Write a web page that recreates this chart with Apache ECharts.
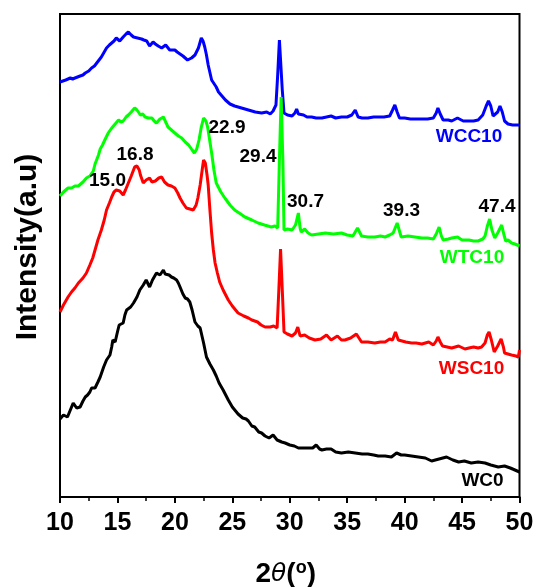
<!DOCTYPE html>
<html>
<head>
<meta charset="utf-8">
<script src="https://cdn.jsdelivr.net/npm/echarts@6/dist/echarts.min.js"></script>
<style>
  html, body { margin: 0; padding: 0; background: #fff; }
  #chart { width: 535px; height: 587px; }
</style>
</head>
<body>
<div id="chart"></div>
<script>
// XRD patterns, 2θ (degrees) vs intensity (a.u.), curves stacked with vertical offsets.

const twoThetaTicks = [10, 15, 20, 25, 30, 35, 40, 45, 50];

const wc0 = [
  [10.0,78],[10.15,80],[10.3,82],[10.45,83],[10.65,80],[10.9,87],[11.15,94],[11.45,89],[11.75,90],
  [12.0,96],[12.2,100],[12.4,102],[12.6,105],[12.75,109],[13.05,109],[13.3,115],[13.5,120],
  [13.8,130],[14.05,137],[14.35,142],[14.5,150],[14.6,157],[14.8,155],[15.0,165],[15.15,172],
  [15.5,174],[15.65,182],[15.8,187],[16.15,190],[16.4,194],[16.7,200],[16.95,207],[17.25,212],
  [17.5,217],[17.8,210],[18.05,217],[18.25,221],[18.4,224],[18.7,222],[19.0,227],[19.15,223],
  [19.3,221],[19.5,222],[19.7,220],[19.9,219],[20.15,217],[20.3,214],[20.45,210],[20.7,203],
  [20.9,199],[21.1,198],[21.3,195],[21.5,187],[21.75,175],[22.0,171],[22.2,169],[22.5,154],
  [22.75,140],[23.05,133],[23.35,127],[23.6,121],[23.85,114],[24.2,107],[24.65,97],[25.0,90],
  [25.5,83],[25.9,79],[26.2,78],[26.4,76],[26.7,71],[26.95,70],[27.3,65],[27.55,64],[27.85,61],
  [28.2,59],[28.55,62],[28.9,57],[29.3,55],[29.6,54],[30.0,52],[30.4,51],[30.75,49],[31.2,49],
  [31.6,49],[32.0,49],[32.3,52],[32.6,48],[32.8,47],[33.2,48],[33.6,48],[34.0,45],[34.5,44],
  [35.1,45],[35.7,44],[36.3,43],[36.8,43],[37.3,42],[37.7,41],[38.3,41],[38.85,40],[39.3,44],
  [39.7,42],[40.0,42],[40.6,41],[41.2,40],[41.8,39],[42.35,36],[43.0,38],[43.65,40],[44.2,37],
  [44.7,35],[45.2,36],[45.8,34],[46.4,35],[47.0,34],[47.5,32],[48.15,30],[48.7,31],[49.2,29],
  [49.6,27],[50.0,25]
];

const wsc10 = [
  [10.0,185],[10.3,192],[10.7,200],[11.0,205],[11.3,209],[11.6,214],[12.0,219],[12.3,224],
  [12.6,232],[12.85,239],[13.05,247],[13.3,257],[13.6,267],[13.85,277],[14.05,287],[14.3,294],
  [14.5,300],[14.7,305],[14.9,307],[15.2,306],[15.5,302],[15.7,307],[15.95,314],[16.2,321],
  [16.5,330],[16.7,331],[16.9,327],[17.0,322],[17.25,314],[17.5,317],[17.8,319],[18.0,315],
  [18.3,316],[18.6,319],[18.85,320],[19.1,315],[19.4,312],[19.7,311],[20.0,309],[20.25,304],
  [20.45,299],[20.7,294],[21.0,289],[21.3,288],[21.6,287],[21.85,292],[22.0,299],[22.2,312],
  [22.4,329],[22.5,337],[22.65,334],[22.8,322],[22.9,312],[23.05,287],[23.2,264],[23.35,247],
  [23.5,234],[23.7,224],[23.9,215],[24.2,207],[24.65,197],[25.0,191],[25.5,184],[26.0,181],
  [26.4,179],[26.7,177],[27.2,175],[27.5,172],[27.85,170],[28.3,170],[28.6,171],[28.9,169],
  [29.05,207],[29.2,248],[29.35,207],[29.5,165],[29.8,163],[30.2,161],[30.5,164],[30.7,170],
  [30.9,161],[31.0,159],[31.3,162],[31.7,159],[32.2,157],[32.7,158],[33.2,162],[33.6,157],
  [34.15,161],[34.5,157],[34.8,157],[35.3,159],[35.8,163],[36.25,155],[36.8,155],[37.4,154],
  [37.9,155],[38.3,155],[38.7,158],[38.95,157],[39.2,165],[39.45,157],[39.6,155],[40.1,155],
  [40.6,154],[41.0,154],[41.5,153],[42.1,155],[42.5,152],[42.75,156],[42.9,160],[43.1,155],
  [43.3,151],[43.7,150],[44.1,149],[44.7,151],[45.25,148],[45.6,149],[46.0,150],[46.4,149],
  [46.7,150],[47.0,154],[47.2,162],[47.35,165],[47.55,157],[47.8,145],[48.1,151],[48.4,158],
  [48.6,150],[48.7,144],[49.0,143],[49.3,142],[49.7,141],[49.9,140],[50.0,147]
];

const wtc10 = [
  [10.0,301],[10.3,305],[10.7,309],[11.0,309],[11.3,311],[11.6,311],[12.0,315],[12.3,319],
  [12.6,321],[12.9,326],[13.05,333],[13.2,335],[13.35,342],[13.5,348],[13.7,352],[13.9,357],
  [14.2,364],[14.5,369],[14.8,373],[15.1,377],[15.3,375],[15.5,376],[15.75,380],[15.95,382],
  [16.2,385],[16.5,389],[16.7,387],[17.0,382],[17.2,383],[17.4,380],[17.7,379],[18.0,379],
  [18.2,376],[18.4,374],[18.7,378],[19.0,380],[19.2,375],[19.4,370],[19.7,367],[20.0,364],
  [20.3,361],[20.6,359],[20.9,355],[21.2,352],[21.5,347],[21.7,344],[21.9,348],[22.1,357],
  [22.3,370],[22.5,379],[22.7,376],[22.85,370],[23.0,359],[23.2,344],[23.4,327],[23.6,314],
  [24.0,305],[24.35,299],[24.8,292],[25.2,287],[25.6,284],[26.1,280],[26.7,277],[27.25,274],
  [27.8,272],[28.4,270],[28.7,271],[28.95,269],[29.1,337],[29.25,400],[29.4,337],[29.5,267],
  [29.8,268],[30.2,267],[30.5,272],[30.75,284],[30.9,269],[31.0,265],[31.3,268],[31.6,264],
  [31.9,262],[32.5,263],[33.1,264],[33.8,263],[34.5,264],[35.0,262],[35.5,261],[35.9,269],
  [36.25,261],[36.8,260],[37.4,260],[37.9,261],[38.3,260],[38.7,262],[39.0,264],[39.35,274],
  [39.7,260],[40.3,261],[40.9,260],[41.5,259],[42.0,259],[42.5,258],[42.75,263],[43.0,270],
  [43.2,261],[43.35,257],[43.8,258],[44.1,259],[44.6,260],[45.0,257],[45.6,257],[46.0,256],
  [46.4,256],[46.8,258],[47.0,261],[47.2,271],[47.4,278],[47.6,267],[47.85,259],[48.1,264],
  [48.45,272],[48.65,262],[48.8,256],[49.0,257],[49.3,254],[49.6,253],[50.0,251]
];

const wcc10 = [
  [10.0,415],[10.15,417],[10.5,417],[10.9,419],[11.1,418],[11.3,419],[11.75,421],[12.0,422],
  [12.2,424],[12.5,426],[12.75,429],[13.0,431],[13.2,434],[13.6,440],[13.85,445],[14.05,449],
  [14.3,452],[14.5,454],[14.7,456],[14.9,459],[15.2,456],[15.5,460],[15.75,463],[15.95,465],
  [16.2,462],[16.4,460],[16.75,459],[17.1,458],[17.3,457],[17.55,456],[17.8,451],[18.1,455],
  [18.3,453],[18.55,451],[18.85,449],[19.2,452],[19.55,447],[20.0,447],[20.2,445],[20.45,443],
  [20.7,441],[20.9,439],[21.1,437],[21.45,439],[21.75,442],[22.05,449],[22.3,459],[22.45,456],
  [22.6,450],[22.75,442],[22.9,432],[23.2,417],[23.6,410],[23.8,405],[24.1,401],[24.4,397],
  [24.8,393],[25.2,391],[25.8,389],[26.4,387],[27.0,385],[27.55,384],[28.0,385],[28.3,383],
  [28.55,386],[28.8,392],[28.95,422],[29.1,457],[29.2,455],[29.35,407],[29.5,384],[29.8,382],
  [30.2,381],[30.45,384],[30.6,388],[30.75,383],[30.9,381],[31.2,382],[31.5,380],[31.9,380],
  [32.3,379],[32.8,379],[33.2,380],[33.6,381],[34.0,379],[34.5,380],[35.0,380],[35.4,382],
  [35.7,387],[35.95,380],[36.3,379],[36.8,379],[37.3,380],[37.7,380],[38.2,380],[38.7,381],
  [38.95,387],[39.15,392],[39.35,385],[39.55,379],[40.0,379],[40.5,378],[41.0,378],[41.5,378],
  [42.0,378],[42.5,379],[42.75,384],[42.9,389],[43.1,383],[43.35,377],[43.8,377],[44.1,376],
  [44.6,379],[45.1,376],[45.6,376],[46.0,376],[46.4,377],[46.8,382],[47.1,391],[47.3,396],
  [47.5,391],[47.7,381],[47.85,379],[48.1,385],[48.3,391],[48.5,385],[48.7,376],[49.0,373],
  [49.4,372],[50.0,372]
];

const seriesNames = ['WC0', 'WSC10', 'WCC10', 'WTC10'];
const seriesColors = ['#000000', '#ff0000', '#0000ff', '#00ff00'];
const seriesData = [wc0, wsc10, wcc10, wtc10];

// Peak positions (2θ) annotated on the patterns
const peakLabels = ['15.0', '16.8', '22.9', '29.4', '30.7', '39.3', '47.4'];

const FONT = '"Liberation Sans", Arial, Helvetica, sans-serif';

const chart = echarts.init(document.getElementById('chart'), null, { renderer: 'canvas' });

const peakPos = {
  '15.0': [107.5, 180.5], '16.8': [135, 155], '22.9': [227, 128], '29.4': [258, 156.5],
  '30.7': [305.5, 202], '39.3': [401.5, 210.5], '47.4': [497, 206.5]
};
const namePos = {
  'WCC10': [469, 137], 'WTC10': [472, 257.5], 'WSC10': [471.5, 369], 'WC0': [482.5, 481]
};

const graphics = [];
peakLabels.forEach(t => {
  graphics.push({
    type: 'text', x: peakPos[t][0], y: peakPos[t][1], z: 10,
    style: { text: t, fill: '#000', font: 'bold 19px ' + FONT, align: 'center', verticalAlign: 'middle' }
  });
});
seriesNames.forEach((n, i) => {
  graphics.push({
    type: 'text', x: namePos[n][0], y: namePos[n][1], z: 10,
    style: { text: n, fill: seriesColors[i], font: 'bold 19px ' + FONT, align: 'center', verticalAlign: 'middle' }
  });
});

chart.setOption({
  animation: false,
  backgroundColor: '#fff',
  grid: {
    left: 60, right: 15.5, top: 14, bottom: 90,
    outerBoundsMode: 'none', containLabel: false,
    show: true, borderColor: '#000', borderWidth: 2, backgroundColor: 'transparent'
  },
  xAxis: {
    type: 'value', min: 10, max: 50, interval: 5,
    name: '{a|2}{b|θ}{a|(}{c|o}{a|)}',
    nameLocation: 'middle', nameGap: 62,
    nameTextStyle: {
      padding: [0, 8, 0, 0],
      rich: {
        a: { fontFamily: FONT, fontWeight: 'bold', fontSize: 28, color: '#000', lineHeight: 30 },
        b: { fontFamily: '"DejaVu Sans", sans-serif', fontStyle: 'italic', fontSize: 25, color: '#000', lineHeight: 30 },
        c: { fontFamily: FONT, fontWeight: 'bold', fontSize: 18, color: '#000', verticalAlign: 'top', lineHeight: 18 }
      }
    },
    axisLine: { show: true, onZero: false, lineStyle: { color: '#000', width: 2 } },
    axisTick: { show: true, inside: false, length: 6, lineStyle: { color: '#000', width: 2 } },
    minorTick: { show: true, splitNumber: 2, length: 4, lineStyle: { color: '#000', width: 1.5 } },
    axisLabel: { color: '#000', fontFamily: FONT, fontWeight: 'bold', fontSize: 25, margin: 14,
      formatter: v => twoThetaTicks.includes(v) ? String(v) : '' },
    splitLine: { show: false }
  },
  yAxis: {
    type: 'value', min: 0, max: 483,
    name: 'Intensity(a.u)', nameLocation: 'middle', nameGap: 17, nameRotate: 90,
    nameTextStyle: { color: '#000', fontFamily: FONT, fontWeight: 'bold', fontSize: 30, padding: [0, 0, 0, 17] },
    axisLine: { show: true, onZero: false, lineStyle: { color: '#000', width: 2 } },
    axisTick: { show: false },
    axisLabel: { show: false },
    splitLine: { show: false }
  },
  series: seriesNames.map((n, i) => ({
    name: n, type: 'line', data: seriesData[i], showSymbol: false, smooth: false,
    lineStyle: { color: seriesColors[i], width: 3 }, itemStyle: { color: seriesColors[i] },
    clip: true, z: 2 + i
  })),
  graphic: graphics
});
</script>
</body>
</html>
